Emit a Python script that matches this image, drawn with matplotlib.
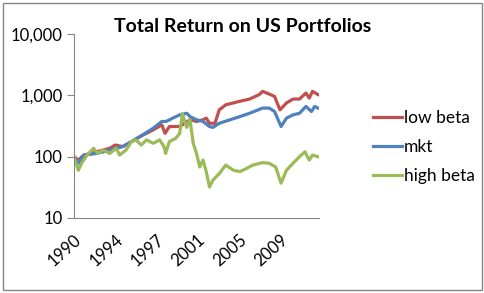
import numpy as np
import matplotlib
matplotlib.use('Agg')
import matplotlib.pyplot as plt
import matplotlib.patches as patches

# values (year, index level)
low_years = [1990.0, 1990.4, 1990.9, 1992.1, 1993.3, 1993.8, 1994.5, 1995.3, 1996.1, 1997.3,
             1998.1, 1998.4, 1998.8, 1999.75, 2000.2, 2000.7, 2001.3, 2001.9, 2002.2, 2002.5,
             2003.0, 2003.4, 2004.0, 2005.3, 2006.2, 2007.1, 2007.4, 2008.0, 2008.5, 2009.0,
             2009.6, 2010.2, 2010.8, 2011.4, 2011.7, 2012.0, 2012.5]
low_beta = [100, 88, 106, 120, 137, 155, 146, 176, 213, 273,
            330, 240, 310, 310, 350, 400, 375, 400, 425, 350,
            350, 580, 700, 800, 870, 1030, 1160, 1050, 960, 580,
            750, 870, 870, 1090, 900, 1160, 1030]

mkt_years = [1990.0, 1990.4, 1990.9, 1992.1, 1993.3, 1994.5, 1995.3, 1996.1, 1997.3, 1998.1,
             1998.5, 1999.1, 1999.75, 2000.4, 2000.7, 2001.3, 2001.9, 2002.5, 2002.8, 2003.4,
             2004.4, 2005.3, 2006.2, 2007.4, 2008.0, 2008.5, 2009.1, 2009.6, 2010.2, 2010.8,
             2011.4, 2011.9, 2012.2, 2012.5]
mkt = [100, 78, 106, 113, 128, 146, 176, 213, 290, 375,
       375, 425, 480, 510, 450, 400, 375, 310, 300, 350,
       400, 450, 510, 620, 620, 545, 310, 425, 480, 510,
       660, 545, 660, 620]

high_years = [1990.0, 1990.4, 1990.7, 1991.2, 1991.8, 1992.2, 1992.7, 1993.3, 1993.9, 1994.2,
              1994.8, 1995.3, 1995.7, 1996.2, 1996.7, 1997.3, 1997.9, 1998.3, 1998.45, 1998.8,
              1999.4, 1999.75, 2000.0, 2000.4, 2000.7, 2001.0, 2001.3, 2001.6, 2001.9, 2002.2,
              2002.5, 2002.8, 2003.4, 2004.0, 2004.7, 2005.3, 2005.9, 2006.5, 2007.4, 2008.0,
              2008.6, 2009.1, 2009.6, 2010.2, 2010.8, 2011.3, 2011.7, 2012.0, 2012.5]
high_beta = [100, 60, 78, 106, 137, 113, 128, 113, 137, 106,
             128, 176, 188, 155, 188, 165, 188, 146, 113, 176,
             200, 240, 500, 300, 400, 165, 113, 68, 88, 57,
             32, 41, 53, 73, 60, 57, 64, 73, 80, 78,
             68, 37, 60, 78, 100, 120, 88, 106, 100]

tick_pos = [1990, 1993.8, 1997.6, 2001.4, 2005.2, 2009.0]
tick_labels = ['1990', '1994', '1997', '2001', '2005', '2009']

plt.rcParams['font.family'] = ['Lato', 'DejaVu Sans']

fig = plt.figure(figsize=(4.85, 2.93), dpi=100)
ax = fig.add_axes([74/485, 1-218/293, 245/485, 184/293])

ax.plot(low_years, low_beta, color='#C0504D', lw=2.3, label='low beta')
ax.plot(mkt_years, mkt, color='#4F81BD', lw=2.3, label='mkt')
ax.plot(high_years, high_beta, color='#9BBB59', lw=2.3, label='high beta')

ax.set_yscale('log')
ax.set_ylim(10, 10000)
ax.set_xlim(1990, 2012.6)
ax.set_yticks([10, 100, 1000, 10000])
ax.set_yticklabels(['10', '100', '1,000', '10,000'])
ax.minorticks_off()
ax.set_xticks(tick_pos)
ax.set_xticklabels(tick_labels, rotation=42, ha='right', rotation_mode='anchor')

for s in ['top', 'right']:
    ax.spines[s].set_visible(False)
for s in ['left', 'bottom']:
    ax.spines[s].set_color('#868686')
ax.tick_params(axis='y', length=5, color='#868686', labelsize=12, pad=3)
ax.tick_params(axis='x', length=0, labelsize=12, pad=10)

fig.text(243/485, 1-27/293, 'Total Return on US Portfolios', ha='center', va='center',
         fontsize=14, fontweight='bold')

ax.legend(loc='center left', bbox_to_anchor=(366/485, 1-147/293), bbox_transform=fig.transFigure,
          frameon=False, fontsize=12.5, handlelength=1.7, handletextpad=0.1, labelspacing=0.75,
          borderaxespad=0)

fig.patches.append(patches.Rectangle((3/485, 3/293), 479/485, 287/293, transform=fig.transFigure,
                                     fill=False, edgecolor='#868686', lw=1))

fig.savefig('out.png', dpi=100)
